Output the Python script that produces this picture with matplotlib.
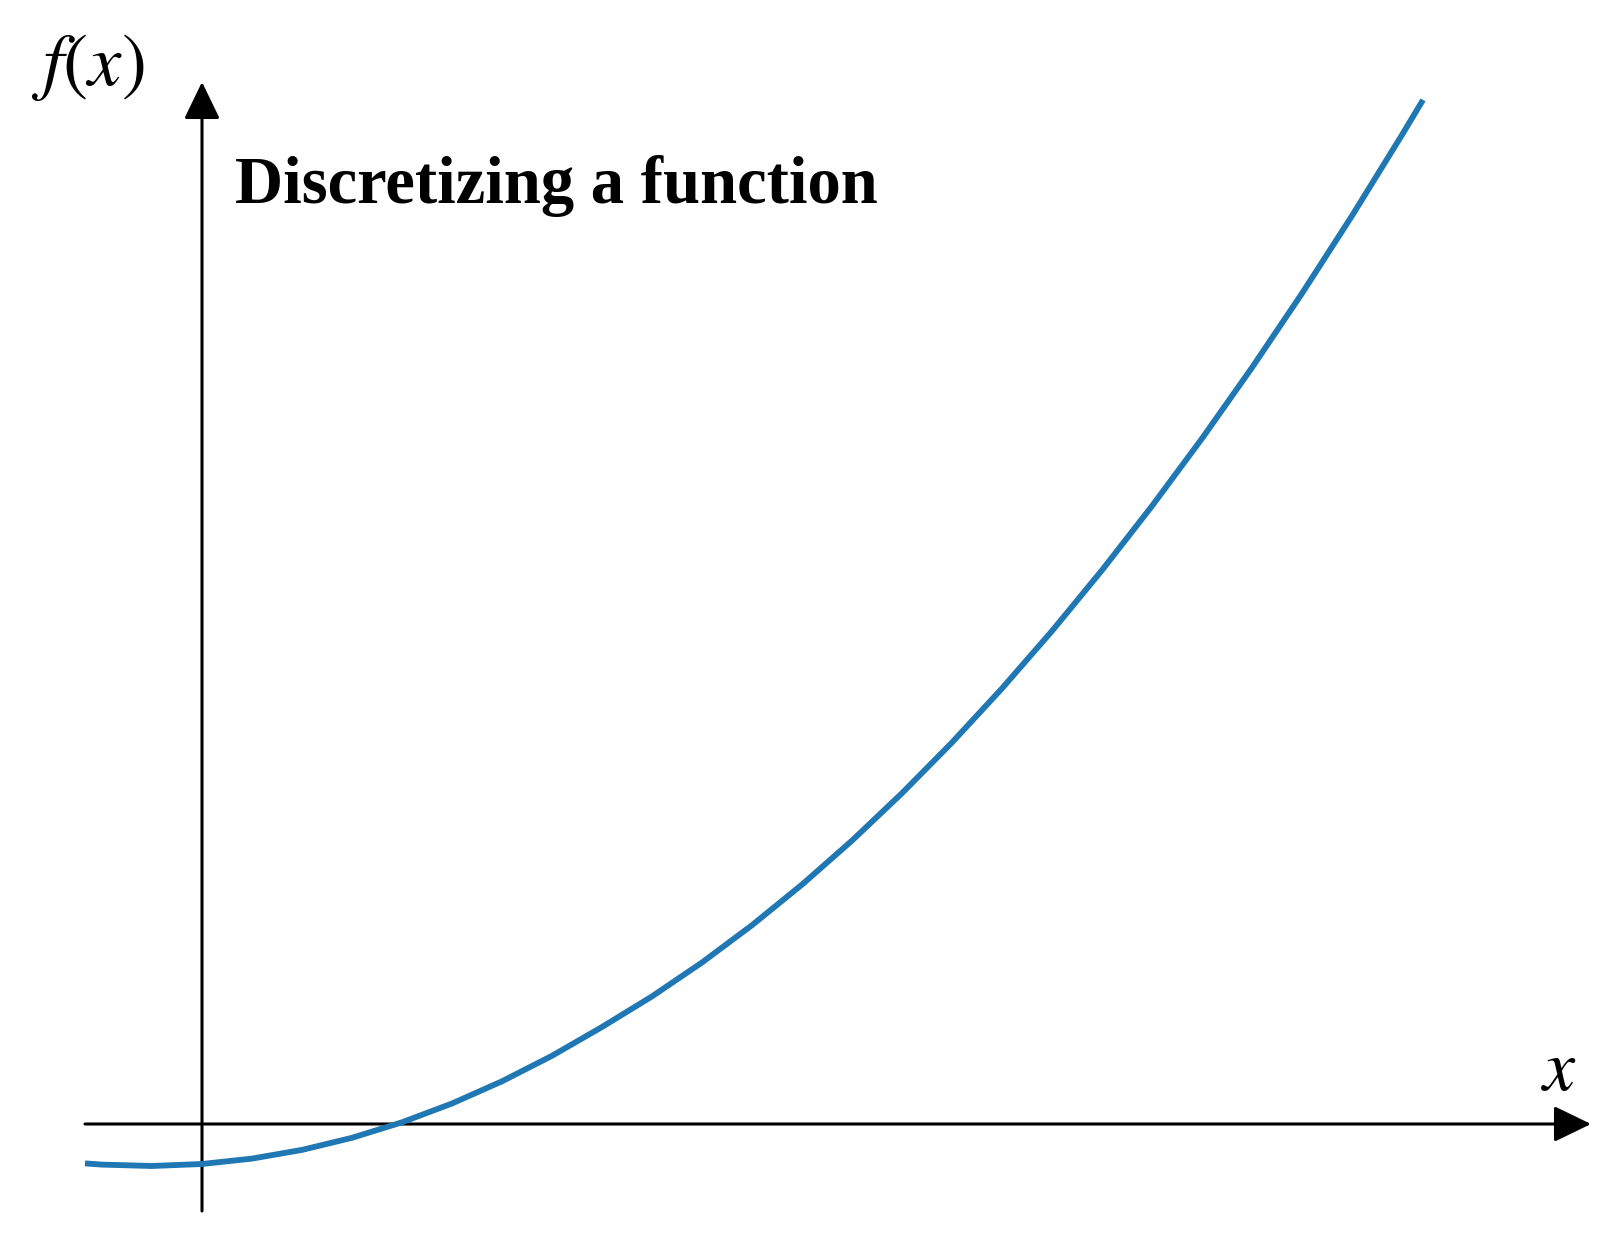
import matplotlib
matplotlib.use("Agg")
import matplotlib.pyplot as plt

# Curve values (arbitrary units)
x_vals = [-1.17, -1.0, -0.5, 0.0, 0.5, 1.0, 1.5, 2.0, 2.5, 3.0, 3.5, 4.0, 4.5,
          5.0, 5.5, 6.0, 6.5, 7.0, 7.5, 8.0, 8.5, 9.0, 9.5, 10.0, 10.5, 11.0,
          11.5, 12.0, 12.21]
y_vals = [-0.394, -0.406, -0.420, -0.400, -0.346, -0.259, -0.138, 0.017, 0.205,
          0.427, 0.682, 0.970, 1.276, 1.615, 1.988, 2.394, 2.834, 3.308, 3.815,
          4.356, 4.930, 5.538, 6.180, 6.855, 7.564, 8.306, 9.082, 9.891, 10.241]

title_text = "Discretizing a function"
ylabel_text = r"$f(x)$"
xlabel_text = r"$x$"

plt.rcParams["mathtext.fontset"] = "stix"
plt.rcParams["font.family"] = ["Liberation Serif", "DejaVu Serif"]

fig = plt.figure(figsize=(16.16, 12.39), dpi=100)
ax = fig.add_axes([0, 0, 1, 1])
ax.set_xlim(-2.02, 14.14)
ax.set_ylim(-1.15, 11.24)
ax.axis("off")

arrow_kw = dict(arrowstyle="-|>,head_length=0.32,head_width=0.155",
                color="black", lw=2.2, mutation_scale=72,
                shrinkA=0, shrinkB=0)
# horizontal axis
ax.annotate("", xy=(13.89, 0), xytext=(-1.17, 0), arrowprops=arrow_kw)
# vertical axis
ax.annotate("", xy=(0, 10.42), xytext=(0, -0.87), arrowprops=arrow_kw)

ax.plot(x_vals, y_vals, color="#1f77b4", lw=4.2, solid_capstyle="butt",
        solid_joinstyle="round", zorder=3)

ax.text(0.33, 9.21, title_text, fontsize=48, fontweight="bold",
        ha="left", va="baseline")
ax.text(-1.71, 10.92, ylabel_text, fontsize=54, ha="left", va="top")
ax.text(13.39, 0.34, xlabel_text, fontsize=52, ha="left", va="baseline")

fig.savefig("out.png", dpi=100)
